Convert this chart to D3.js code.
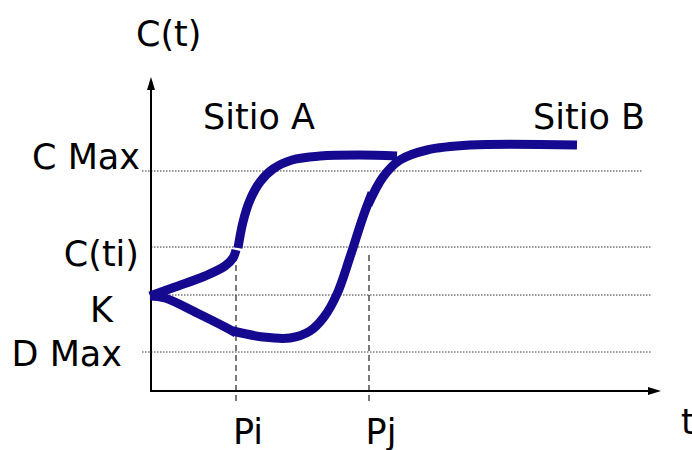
<!DOCTYPE html>
<html>
<head>
<meta charset="utf-8">
<script src="https://d3js.org/d3.v7.min.js"></script>
<style>
  html, body { margin: 0; padding: 0; background: #fff; }
  text { font-family: "DejaVu Sans", sans-serif; fill: #000; font-size: 35px; }
</style>
</head>
<body>
<div id="chart"></div>
<script>
// levels on the C(t) axis
const levelNames = ["D Max", "K", "C(ti)", "C Max"];
const levelValues = [39, 96, 144, 220];
// marks on the t axis
const timeNames = ["Pi", "Pj"];
const timeValues = [85, 218];

// curve pieces, [t, C]
const siteA1 = [[-1, 95], [24, 104], [54, 115], [74, 125], [82, 133], [85, 141]];
const siteA2 = [[87, 143], [92, 169], [99, 191], [109, 209], [122, 222], [141, 231], [169, 235], [209, 236], [246, 235]];
const siteB1 = [[-1, 95], [14, 93], [46, 78], [74, 64], [85, 58]];
const siteB2 = [[82, 60], [112, 54], [139, 53], [159, 60], [173, 74], [186, 97], [199, 134], [212, 174], [221, 198]];
const siteB3 = [[217, 186], [232, 214], [249, 231], [276, 241], [319, 246], [426, 246]];

const width = 692, height = 450;
const svg = d3.select("#chart").append("svg")
  .attr("width", width).attr("height", height);

const x = d3.scaleLinear().domain([0, 510]).range([151, 661]);
const y = d3.scaleLinear().domain([0, 314]).range([391, 77]);

// dotted level lines
const gridEnds = [652, 652, 652, 643];
const gridStarts = [142, 151, 151, 142];
svg.selectAll(".level").data(levelValues).enter().append("line")
  .attr("x1", (d, i) => gridStarts[i]).attr("x2", (d, i) => gridEnds[i])
  .attr("y1", d => y(d)).attr("y2", d => y(d))
  .attr("stroke", "#333").attr("stroke-width", 1)
  .attr("stroke-dasharray", "1.5,1.5");

// dashed time markers
svg.selectAll(".tmark").data(timeValues).enter().append("line")
  .attr("x1", d => x(d)).attr("x2", d => x(d))
  .attr("y1", y(136)).attr("y2", y(-12))
  .attr("stroke", "#222").attr("stroke-width", 1.2)
  .attr("stroke-dasharray", "6,4");

// axes
svg.append("line").attr("x1", x(0)).attr("x2", x(0))
  .attr("y1", y(0)).attr("y2", y(306)).attr("stroke", "#000").attr("stroke-width", 2);
svg.append("line").attr("x1", x(0) - 1).attr("x2", x(502))
  .attr("y1", y(0)).attr("y2", y(0)).attr("stroke", "#000").attr("stroke-width", 2);
svg.append("path")
  .attr("d", `M${x(0)},${y(314)} L${x(0) - 4},${y(301)} L${x(0) + 4},${y(301)} Z`)
  .attr("fill", "#000");
svg.append("path")
  .attr("d", `M${x(510)},${y(0)} L${x(497)},${y(0) - 4} L${x(497)},${y(0) + 4} Z`)
  .attr("fill", "#000");

// curves
const line = d3.line()
  .x(d => x(d[0])).y(d => y(d[1]))
  .curve(d3.curveCatmullRom.alpha(0.5));
[siteA1, siteA2, siteB1, siteB2, siteB3].forEach(pts => {
  svg.append("path").attr("d", line(pts))
    .attr("fill", "none").attr("stroke", "#15098f")
    .attr("stroke-width", 9).attr("stroke-linecap", "butt");
});

// labels
const labelBase = [366, 322, 266, 169];
const labelEnd = [122, 113, 139, 140];
svg.selectAll(".lvl").data(levelNames).enter().append("text")
  .attr("x", (d, i) => labelEnd[i]).attr("y", (d, i) => labelBase[i])
  .attr("text-anchor", "end")
  .text(d => d);

svg.selectAll(".tl").data(timeNames).enter().append("text")
  .attr("x", (d, i) => x(timeValues[i]) + 12)
  .attr("y", 444).attr("text-anchor", "middle")
  .text(d => d);

svg.append("text").attr("x", 136).attr("y", 46).text("C(t)");
svg.append("text").attr("x", 681).attr("y", 434).text("t");
svg.append("text").attr("x", 203).attr("y", 129).text("Sitio A");
svg.append("text").attr("x", 533).attr("y", 129).text("Sitio B");
</script>
</body>
</html>
